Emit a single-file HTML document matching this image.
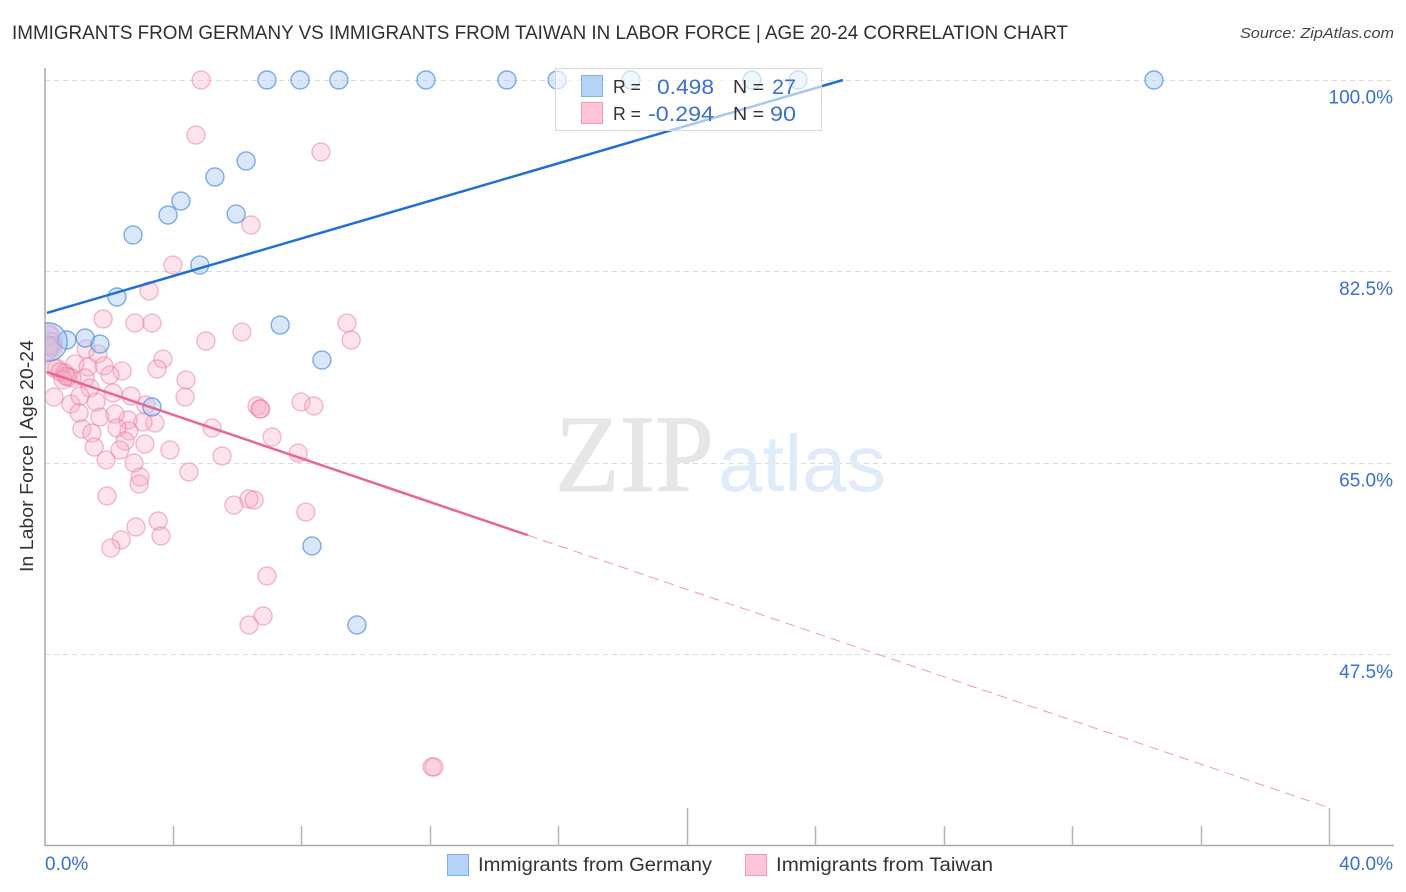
<!DOCTYPE html>
<html lang="en">
<head>
<meta charset="utf-8">
<title>Immigrants from Germany vs Immigrants from Taiwan in Labor Force | Age 20-24 Correlation Chart</title>
<style>
html,body{margin:0;padding:0;background:#fff;width:1406px;height:892px;overflow:hidden}
svg{display:block}
text{font-family:"Liberation Sans",sans-serif}
</style>
</head>
<body>
<svg id="chart" xmlns="http://www.w3.org/2000/svg" width="1406" height="892" viewBox="0 0 1406 892">
  <defs><clipPath id="plot-clip"><rect x="45" y="60" width="1349" height="786"/></clipPath></defs>
  <text x="12" y="39" font-size="19.5" fill="#2f2f2f" textLength="1056" lengthAdjust="spacingAndGlyphs">IMMIGRANTS FROM GERMANY VS IMMIGRANTS FROM TAIWAN IN LABOR FORCE | AGE 20-24 CORRELATION CHART</text>
  <text x="1394" y="38" font-size="15" font-style="italic" fill="#444" text-anchor="end" textLength="154" lengthAdjust="spacingAndGlyphs">Source: ZipAtlas.com</text>
  <g id="grid"></g>
  <g>
    <text x="555" y="491" font-size="110" fill="#e6e6e6" stroke="#e6e6e6" stroke-width="1" textLength="159" lengthAdjust="spacingAndGlyphs" style="font-family:'Liberation Serif',serif">ZIP</text>
    <text x="718" y="491" font-size="80" fill="#e0ebf9" textLength="168" lengthAdjust="spacingAndGlyphs">atlas</text>
  </g>
  <g id="points" clip-path="url(#plot-clip)"></g>
  <g id="trends"></g>
  <g id="axes">
    <line x1="45" y1="68" x2="45" y2="846" stroke="#a9a9a9" stroke-width="1.5"/>
    <line x1="45" y1="845.5" x2="1394" y2="845.5" stroke="#a9a9a9" stroke-width="1.5"/>
  </g>
  <text transform="translate(33,456) rotate(-90)" font-size="18.5" fill="#333" text-anchor="middle" textLength="232" lengthAdjust="spacingAndGlyphs">In Labor Force | Age 20-24</text>
  <g>
    <rect x="555.5" y="68.5" width="266" height="62" fill="#fff" fill-opacity="0.62" stroke="#d8d8d8" stroke-width="1"/>
    <rect x="581.5" y="75.5" width="21" height="21" fill="#b5d2f7" stroke="#7fb0e8" stroke-width="1"/>
    <rect x="581.5" y="102.5" width="21" height="21" fill="#fcc6d8" stroke="#f09ab8" stroke-width="1"/>
    <text x="613" y="93" font-size="18.5" fill="#333" textLength="28" lengthAdjust="spacingAndGlyphs">R =</text>
    <text x="657" y="94" font-size="21" fill="#3b6fd0" textLength="57" lengthAdjust="spacingAndGlyphs">0.498</text>
    <text x="733" y="93" font-size="18.5" fill="#333" textLength="31" lengthAdjust="spacingAndGlyphs">N =</text>
    <text x="772" y="94" font-size="21" fill="#3b6fd0" textLength="24" lengthAdjust="spacingAndGlyphs">27</text>
    <text x="613" y="120" font-size="18.5" fill="#333" textLength="28" lengthAdjust="spacingAndGlyphs">R =</text>
    <text x="648" y="121" font-size="21" fill="#3b6fd0" textLength="66" lengthAdjust="spacingAndGlyphs">-0.294</text>
    <text x="733" y="120" font-size="18.5" fill="#333" textLength="31" lengthAdjust="spacingAndGlyphs">N =</text>
    <text x="770" y="121" font-size="21" fill="#3b6fd0" textLength="26" lengthAdjust="spacingAndGlyphs">90</text>
  </g>
  <g>
    <rect x="447.5" y="854.5" width="21" height="21" fill="#b5d2f7" stroke="#7fb0e8" stroke-width="1"/>
    <text x="478" y="871" font-size="19" fill="#333" textLength="234" lengthAdjust="spacingAndGlyphs">Immigrants from Germany</text>
    <rect x="745.5" y="854.5" width="21" height="21" fill="#fcc6d8" stroke="#f09ab8" stroke-width="1"/>
    <text x="776" y="871" font-size="19" fill="#333" textLength="217" lengthAdjust="spacingAndGlyphs">Immigrants from Taiwan</text>
  </g>
</svg>
<script>
const yTickValues = [100, 82.5, 65, 47.5];
const yTickLabels = ["100.0%", "82.5%", "65.0%", "47.5%"];
const xMinorTicks = [4, 8, 12, 16, 24, 28, 32, 36];
const xMajorTicks = [20, 40];
const xEndLabels = ["0.0%", "40.0%"];
const xEndValues = [0, 40];

const germanyX = [6.91,7.94,9.15,11.86,14.38,15.94,18.24,22.01,23.44,34.52,6.26,5.29,4.23,3.83,5.95,2.74,4.82,2.24,7.32,8.62,1.71,1.25,0.68,3.33,8.31,9.71,0.09];
const germanyY = [100,100,100,100,100,100,100,100,100,100,92.6,91.14,88.94,87.66,87.75,85.84,83.09,80.17,77.61,74.41,75.87,76.42,76.24,70.12,57.42,50.2,76.06];
const germanyWeight = [1,1,1,1,1,1,1,1,1,1,1,1,1,1,1,1,1,1,1,1,1,1,1,1,1,1,4.6];

const taiwanX = [4.86,4.70,8.59,6.41,3.98,3.24,2.80,3.33,1.81,5.01,6.13,9.40,9.53,3.67,3.49,2.40,4.39,4.36,2.68,3.14,6.60,6.72,6.69,7.97,8.37,3.42,3.05,2.58,2.61,5.20,7.07,1.28,1.65,0.93,1.34,1.84,2.02,1.25,1.40,0.28,0.81,1.09,1.59,2.12,1.06,1.71,2.18,2.24,1.15,1.46,2.49,3.11,2.33,1.53,3.89,1.90,2.77,5.51,4.48,2.96,2.93,1.93,6.35,6.51,5.88,7.88,8.12,3.52,3.61,2.83,2.37,2.05,6.91,6.79,12.05,12.11,0.06,0.09,0.16,0.22,0.03,0.37,0.28,0.47,0.62,0.72,0.84,0.56,0.65,6.35];
const taiwanY = [100,94.97,93.42,86.75,83.09,80.72,77.79,77.79,78.16,76.15,76.97,77.79,76.24,74.5,73.59,73.41,72.59,71.03,71.12,70.3,70.21,69.94,69.94,70.58,70.21,68.66,68.75,68.93,67.93,68.2,67.38,75.42,74.96,74.05,73.77,73.87,73.04,72.77,71.85,71.03,70.39,71.12,70.58,71.4,69.57,69.2,69.48,68.2,68.11,67.74,67.01,66.74,66.19,66.46,66.19,65.28,65,65.64,64.18,63.72,63.08,61.99,61.71,61.62,61.16,65.91,60.52,59.7,58.33,59.15,57.97,57.23,54.68,51.02,37.22,37.22,76.7,76.24,75.88,75.6,75.51,73.68,73.68,73.32,73.23,72.86,72.77,72.59,72.95,50.2];
const taiwanWeight = [1,1,1,1,1,1,1,1,1,1,1,1,1,1,1,1,1,1,1,1,1,1,1,1,1,1,1,1,1,1,1,1,1,1,1,1,1,1,1,1,1,1,1,1,1,1,1,1,1,1,1,1,1,1,1,1,1,1,1,1,1,1,1,1,1,1,1,1,1,1,1,1,1,1,1,1,1.6,2.4,1.6,1.3,1.8,1,1,1,1,1,1,1,1,1];

const germanyTrendX = [0.06, 24.84];
const germanyTrendY = [78.71, 100];
const taiwanTrendX = [0.06, 15.03, 40];
const taiwanTrendY = [73.32, 58.4, 33.47];

const NS = "http://www.w3.org/2000/svg";
function xScale(v){ return 45 + v * 32.125; }
function yScale(v){ return 80 + (100 - v) * 10.943; }
function radius(w){ return 9 * Math.sqrt(w); }
function make(tag, attrs, parent){
  const el = document.createElementNS(NS, tag);
  for (const k in attrs) el.setAttribute(k, attrs[k]);
  parent.appendChild(el);
  return el;
}

const gridGroup = document.getElementById("grid");
const axesGroup = document.getElementById("axes");
const pointsGroup = document.getElementById("points");
const trendsGroup = document.getElementById("trends");

yTickValues.forEach(function(v, i){
  const y = Math.floor(yScale(v)) + 0.5;
  const g = make("line", {x1:45, y1:y, x2:1394, y2:y, stroke:"#dcdcdc", "stroke-width":1, "stroke-dasharray":"5 4"}, gridGroup);
  
  
  const t = make("text", {x:1393, y:yScale(v) + 23.5, "font-size":19, fill:"#3b6fd0", "text-anchor":"end"}, axesGroup);
  t.textContent = yTickLabels[i];
  
  
});

xMinorTicks.forEach(function(v){
  const x = Math.round(xScale(v)) - 0.5;
  const tk = make("line", {x1:x, y1:826, x2:x, y2:846, stroke:"#b5b5b5", "stroke-width":1.5}, axesGroup);
  
  
});
xMajorTicks.forEach(function(v){
  const x = Math.round(xScale(v)) - 0.5;
  const tk = make("line", {x1:x, y1:808, x2:x, y2:846, stroke:"#b5b5b5", "stroke-width":1.5}, axesGroup);
  
  
});
xEndLabels.forEach(function(label, i){
  const first = i === 0;
  const t = make("text", {x: first ? xScale(xEndValues[i]) : 1393, y:870, "font-size":19, fill:"#3b6fd0", "text-anchor": first ? "start" : "end"}, axesGroup);
  t.textContent = label;
  
  
});

taiwanX.forEach(function(v, i){
  const c = make("circle", {cx:xScale(v), cy:yScale(taiwanY[i]), r:radius(taiwanWeight[i]), fill:"#f8a9c4", "fill-opacity":0.33, stroke:"#e8799f", "stroke-opacity":0.5, "stroke-width":1.4}, pointsGroup);
  
  
});
germanyX.forEach(function(v, i){
  const c = make("circle", {cx:xScale(v), cy:yScale(germanyY[i]), r:radius(germanyWeight[i]), fill:"#a9caf5", "fill-opacity":0.45, stroke:"#4c8bdc", "stroke-opacity":0.7, "stroke-width":1.4}, pointsGroup);
  
  
});

const blueLine = make("line", {x1:xScale(germanyTrendX[0]), y1:yScale(germanyTrendY[0]), x2:xScale(germanyTrendX[1]), y2:yScale(germanyTrendY[1]), stroke:"#1f6fd6", "stroke-width":2.5}, trendsGroup);


const pinkSolid = make("line", {x1:xScale(taiwanTrendX[0]), y1:yScale(taiwanTrendY[0]), x2:xScale(taiwanTrendX[1]), y2:yScale(taiwanTrendY[1]), stroke:"#e8668f", "stroke-width":2.5}, trendsGroup);


const pinkDash = make("line", {x1:xScale(taiwanTrendX[1]), y1:yScale(taiwanTrendY[1]), x2:xScale(taiwanTrendX[2]), y2:yScale(taiwanTrendY[2]), stroke:"#ee9ab5", "stroke-width":1, "stroke-dasharray":"10 6"}, trendsGroup);


</script>
</body>
</html>
